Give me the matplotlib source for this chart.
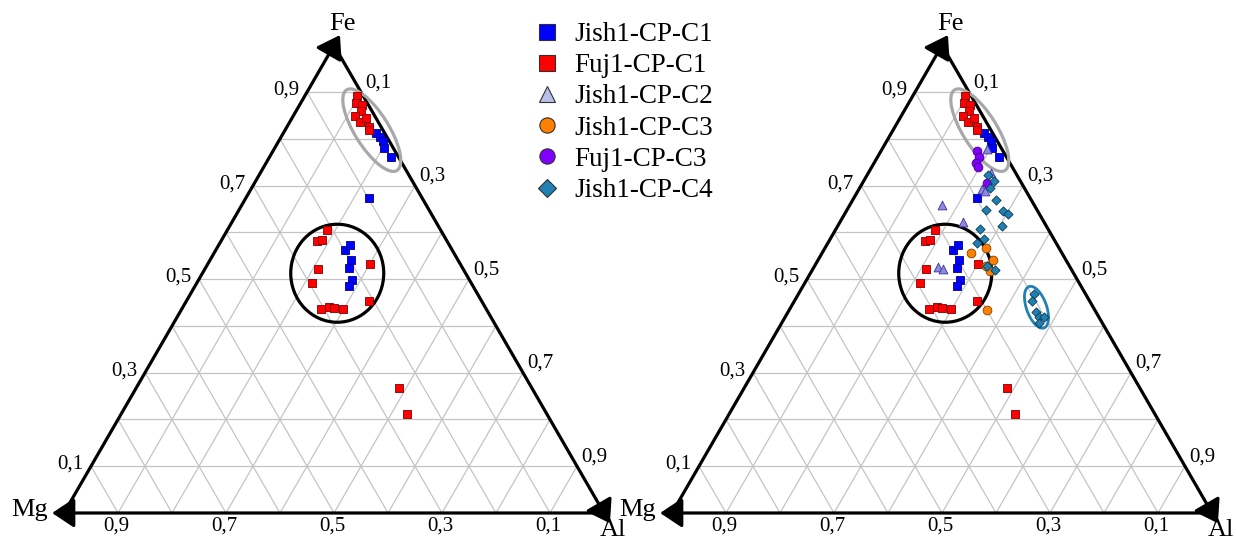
import numpy as np
import matplotlib.pyplot as plt
from matplotlib.patches import Ellipse
from matplotlib.lines import Line2D

plt.rcParams['font.family'] = ['Liberation Serif', 'DejaVu Serif']

# compositions as fractions; Mg = 1 - Fe - Al
jish_c1_fe = [0.813, 0.805, 0.796, 0.780, 0.761, 0.673, 0.562, 0.574, 0.542, 0.524, 0.498, 0.485]
jish_c1_al = [0.172, 0.183, 0.193, 0.203, 0.225, 0.228, 0.239, 0.243, 0.260, 0.266, 0.285, 0.285]

fuj_c1_fe = [0.892, 0.877, 0.872, 0.859, 0.849, 0.836, 0.845, 0.826, 0.819,
             0.605, 0.582, 0.584, 0.521, 0.491, 0.532, 0.454, 0.436, 0.441, 0.438, 0.436, 0.267, 0.211]
fuj_c1_al = [0.097, 0.103, 0.116, 0.121, 0.115, 0.131, 0.136, 0.151, 0.155,
             0.185, 0.178, 0.186, 0.210, 0.213, 0.301, 0.337, 0.258, 0.270, 0.281, 0.298, 0.486, 0.530]

jish_c2_fe = [0.778, 0.728, 0.692, 0.689, 0.659, 0.622, 0.525, 0.522]
jish_c2_al = [0.195, 0.226, 0.229, 0.236, 0.170, 0.228, 0.231, 0.241]

jish_c3_fe = [0.557, 0.566, 0.542, 0.528, 0.518, 0.434]
jish_c3_al = [0.275, 0.298, 0.324, 0.317, 0.330, 0.366]

fuj_c3_fe = [0.774, 0.761, 0.748, 0.740, 0.706]
fuj_c3_al = [0.178, 0.188, 0.189, 0.197, 0.230]

jish_c4_fe = [0.723, 0.709, 0.694, 0.669, 0.648, 0.646, 0.640, 0.614, 0.607, 0.585,
              0.577, 0.528, 0.520, 0.468, 0.454, 0.430, 0.420, 0.420, 0.407]
jish_c4_al = [0.223, 0.242, 0.242, 0.266, 0.257, 0.290, 0.302, 0.304, 0.266, 0.285,
              0.276, 0.319, 0.338, 0.436, 0.439, 0.459, 0.470, 0.478, 0.477]

ticks = [0.1, 0.3, 0.5, 0.7, 0.9]
tick_labels = ['0,1', '0,3', '0,5', '0,7', '0,9']

series = [
    ('Jish1-CP-C1', jish_c1_fe, jish_c1_al, 's', '#0000ff', '#000080', 34),
    ('Fuj1-CP-C1', fuj_c1_fe, fuj_c1_al, 's', '#ff0000', '#800000', 34),
    ('Jish1-CP-C2', jish_c2_fe, jish_c2_al, '^', '#8d88e4', '#3c3490', 40),
    ('Jish1-CP-C3', jish_c3_fe, jish_c3_al, 'o', '#ff8000', '#804000', 40),
    ('Fuj1-CP-C3', fuj_c3_fe, fuj_c3_al, 'o', '#8000ff', '#400080', 40),
    ('Jish1-CP-C4', jish_c4_fe, jish_c4_al, 'D', '#1f80b4', '#0a3850', 22),
]

S3 = np.sqrt(3) / 2
PX = 540.0  # pixels per unit side


def xy(fe, al):
    fe = np.asarray(fe, dtype=float)
    al = np.asarray(al, dtype=float)
    return al + fe / 2, fe * S3


def make_ax(fig, left_px, mg_px):
    ax = fig.add_axes([left_px / 1236, 0, 618 / 1236, 1])
    ax.set_xlim((left_px - mg_px) / PX, (left_px + 618 - mg_px) / PX)
    ax.set_ylim(-27 / PX, 513 / PX)
    ax.axis('off')
    # grid
    for v in np.arange(1, 10) / 10:
        for a, b in [((v, 0), (v, 1 - v)), ((1 - v, v), (0, v)), ((1 - v, 0), (0, 1 - v))]:
            x, y = xy([a[0], b[0]], [a[1], b[1]])
            ax.plot(x, y, color='#c4c4c4', lw=0.9, zorder=1)
    # sides as arrows: Mg->Fe, Fe->Al, Al->Mg
    verts = {'Mg': np.array([0.0, 0.0]), 'Al': np.array([1.0, 0.0]), 'Fe': np.array([0.5, S3])}
    for a, b in [('Mg', 'Fe'), ('Fe', 'Al'), ('Al', 'Mg')]:
        p0, p1 = verts[a], verts[b]
        d = (p1 - p0) / np.linalg.norm(p1 - p0)
        ax.annotate('', xy=p1 + d * 0.022, xytext=p0,
                    arrowprops=dict(arrowstyle='-|>,head_length=0.45,head_width=0.3', lw=2.3,
                                    color='black', mutation_scale=30, shrinkA=0, shrinkB=0),
                    zorder=3)
    # tick labels
    for v, lab in zip(ticks, tick_labels):
        x, y = xy(v, 0)
        ax.annotate(lab, (x, y), xytext=(-8, 2), textcoords='offset pixels',
                    ha='right', va='center', fontsize=15)
        x, y = xy(1 - v, v)
        ax.annotate(lab, (x, y), xytext=(4, 0), textcoords='offset pixels',
                    ha='left', va='bottom', fontsize=15)
        x, y = xy(0, 1 - v)
        ax.annotate(lab, (x, y), xytext=(-2, -4), textcoords='offset pixels',
                    ha='center', va='top', fontsize=15)
    ax.annotate('Fe', (0.5, S3), xytext=(8, 21), textcoords='offset pixels',
                ha='center', va='center', fontsize=19)
    ax.annotate('Mg', (0, 0), xytext=(-16, 3), textcoords='offset pixels',
                ha='right', va='center', fontsize=19)
    ax.annotate('Al', (1, 0), xytext=(9, -6), textcoords='offset pixels',
                ha='center', va='top', fontsize=19, annotation_clip=False)
    return ax


def draw_points(ax, items):
    for name, fe, al, m, fc, ec, s in items:
        x, y = xy(fe, al)
        ax.scatter(x, y, marker=m, s=s, facecolor=fc, edgecolor=ec, linewidths=0.6, zorder=5)


fig = plt.figure(figsize=(12.36, 5.4), dpi=100)

ax1 = make_ax(fig, 0, 64)
draw_points(ax1, series[:2])
ax1.add_patch(Ellipse((0.570, 0.709), 95 / PX, 34 / PX, angle=-58, fill=False,
                      ec='#a8a8a8', lw=2.3, zorder=4))
ax1.add_patch(Ellipse((0.506, 0.444), 93 / PX, 98 / PX, fill=False, ec='black', lw=2.3, zorder=4))

ax2 = make_ax(fig, 618, 672)
draw_points(ax2, series)
ax2.add_patch(Ellipse((0.570, 0.709), 95 / PX, 34 / PX, angle=-58, fill=False,
                      ec='#a8a8a8', lw=2.3, zorder=4))
ax2.add_patch(Ellipse((0.506, 0.444), 93 / PX, 98 / PX, fill=False, ec='black', lw=2.3, zorder=4))
ax2.add_patch(Ellipse((0.675, 0.381), 44 / PX, 20 / PX, angle=-70, fill=False,
                      ec='#1f80b4', lw=2.0, zorder=4))

handles = [Line2D([], [], ls='none', marker=m, markersize=11 if m != 'D' else 9,
                  markerfacecolor=(fc if name != 'Jish1-CP-C2' else '#b8bfe8'),
                  markeredgecolor=('#303030'), markeredgewidth=0.8, label=name)
           for name, fe, al, m, fc, ec, s in series]
fig.legend(handles=handles, loc='upper left', bbox_to_anchor=(536 / 1236, 1 - 22 / 540),
           frameon=False, fontsize=19.5, handlelength=0.8, handletextpad=0.6,
           labelspacing=0.23, borderpad=0, borderaxespad=0)

fig.savefig('out.png', dpi=100)
